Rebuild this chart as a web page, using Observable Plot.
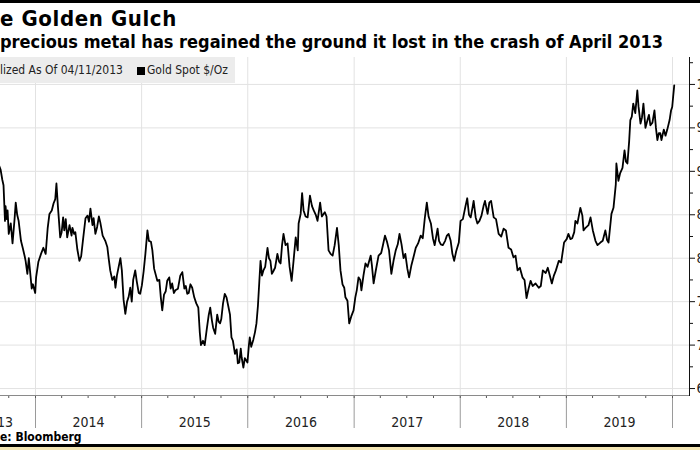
<!DOCTYPE html>
<html><head><meta charset="utf-8">
<script src="https://cdn.jsdelivr.net/npm/d3@7"></script>
<script src="https://cdn.jsdelivr.net/npm/@observablehq/plot@0.6"></script>
<style>
html,body{margin:0;padding:0;background:#fff;}
body{width:700px;height:450px;overflow:hidden;position:relative;font-family:"DejaVu Sans Condensed","DejaVu Sans",sans-serif;font-stretch:semi-condensed;color:#000;}
#topbar{position:absolute;left:0;top:0;width:700px;height:3px;background:#000}
#title{position:absolute;left:0;top:8.4px;font-size:22px;line-height:22px;font-weight:bold;white-space:nowrap;letter-spacing:0.6px}
#subtitle{position:absolute;left:0;top:32.8px;font-size:18px;line-height:18px;font-weight:bold;white-space:nowrap}
#chart{position:absolute;left:0;top:55px;width:700px;height:377px;overflow:hidden}
#legend{position:absolute;left:0;top:57px;width:235px;height:26px;background:#ececec;font-size:12px;white-space:nowrap;color:#222}
#legend span{position:absolute;top:0;line-height:26px}
#legend .sw{position:absolute;left:137px;top:10px;width:8px;height:8px;background:#000}
#source{position:absolute;left:0;top:431px;font-size:12px;line-height:12px;font-weight:bold;white-space:nowrap}
#botbar{position:absolute;left:0;top:444px;width:700px;height:3px;background:#000}
#beige{position:absolute;left:0;top:447px;width:700px;height:3px;background:#f3e5b3}
</style>
</head><body>
<div id="topbar"></div>
<div id="title">e Golden Gulch</div>
<div id="subtitle">precious metal has regained the ground it lost in the crash of April 2013</div>
<div id="chart"></div>
<div id="legend"><span style="left:0">lized As Of 04/11/2013</span><div class="sw"></div><span style="left:147px">Gold Spot $/Oz</span></div>
<div id="source">e: Bloomberg</div>
<div id="botbar"></div>
<div id="beige"></div>
<script>
const dates = [
"2013-04-11","2013-04-12","2013-04-15","2013-04-22","2013-05-03","2013-05-20","2013-06-05","2013-06-27","2013-07-12","2013-07-24","2013-08-07","2013-08-27",
"2013-09-03","2013-09-09","2013-09-13","2013-09-18","2013-09-20","2013-09-24","2013-09-27","2013-10-01","2013-10-08","2013-10-14","2013-10-21","2013-10-25","2013-10-30",
"2013-11-04","2013-11-12","2013-11-18","2013-11-25","2013-11-28","2013-12-04","2013-12-09","2013-12-13","2013-12-19","2013-12-23","2013-12-31",
"2014-01-03","2014-01-11","2014-01-20","2014-01-28","2014-02-05","2014-02-12","2014-02-18","2014-02-26","2014-03-04","2014-03-10","2014-03-14","2014-03-19","2014-03-27",
"2014-04-01","2014-04-06","2014-04-10","2014-04-15","2014-04-20","2014-04-28","2014-05-05","2014-05-08","2014-05-14","2014-05-18","2014-05-25","2014-06-01","2014-06-07",
"2014-06-13","2014-06-22","2014-06-29","2014-07-04","2014-07-09","2014-07-16","2014-07-20","2014-07-26","2014-08-01","2014-08-07","2014-08-12","2014-08-20","2014-08-29",
"2014-09-05","2014-09-10","2014-09-15","2014-09-22","2014-09-29","2014-10-03","2014-10-08","2014-10-14","2014-10-20","2014-10-25","2014-10-31","2014-11-06","2014-11-12",
"2014-11-17","2014-11-23","2014-11-28","2014-12-03","2014-12-10","2014-12-15","2014-12-22","2014-12-27",
"2015-01-02","2015-01-08","2015-01-14","2015-01-21","2015-01-26","2015-02-02","2015-02-07","2015-02-13","2015-02-24","2015-03-03","2015-03-08","2015-03-13","2015-03-19",
"2015-03-25","2015-03-30","2015-04-06","2015-04-11","2015-04-16","2015-04-22","2015-04-27","2015-05-06","2015-05-14","2015-05-21","2015-05-28","2015-06-02","2015-06-07",
"2015-06-12","2015-06-18","2015-06-24","2015-07-01","2015-07-08","2015-07-15","2015-07-20","2015-07-24","2015-07-31","2015-08-06","2015-08-13","2015-08-20","2015-08-25",
"2015-08-31","2015-09-04","2015-09-11","2015-09-18","2015-09-23","2015-09-28","2015-10-02","2015-10-08","2015-10-14","2015-10-20","2015-10-26","2015-11-01","2015-11-06",
"2015-11-11","2015-11-18","2015-11-24","2015-11-28","2015-12-03","2015-12-08","2015-12-11","2015-12-17","2015-12-22","2015-12-31",
"2016-01-05","2016-01-08","2016-01-13","2016-01-20","2016-01-26","2016-01-31","2016-02-05","2016-02-10","2016-02-14","2016-02-19","2016-02-24","2016-03-01","2016-03-09",
"2016-03-14","2016-03-19","2016-03-24","2016-03-29","2016-04-04","2016-04-12","2016-04-18","2016-04-23","2016-04-28","2016-05-03","2016-05-10","2016-05-17","2016-05-24",
"2016-05-31","2016-06-06","2016-06-14","2016-06-21","2016-06-24","2016-07-01","2016-07-06","2016-07-11","2016-07-18","2016-07-25","2016-08-02","2016-08-09","2016-08-15",
"2016-08-22","2016-08-28","2016-09-06","2016-09-12","2016-09-22","2016-09-28","2016-10-05","2016-10-12","2016-10-19","2016-10-26","2016-11-03","2016-11-09","2016-11-15",
"2016-11-22","2016-11-28","2016-12-02","2016-12-09","2016-12-15","2016-12-22","2016-12-30",
"2017-01-05","2017-01-10","2017-01-16","2017-01-22","2017-01-26","2017-02-02","2017-02-09","2017-02-16","2017-02-27","2017-03-03","2017-03-09","2017-03-16","2017-03-26",
"2017-04-04","2017-04-10","2017-04-17","2017-04-24","2017-05-01","2017-05-09","2017-05-17","2017-05-24","2017-05-31","2017-06-06","2017-06-13","2017-06-20","2017-06-26",
"2017-07-03","2017-07-09","2017-07-17","2017-07-24","2017-08-01","2017-08-09","2017-08-18","2017-08-25","2017-09-01","2017-09-08","2017-09-14","2017-09-22","2017-09-29",
"2017-10-05","2017-10-15","2017-10-20","2017-10-26","2017-11-02","2017-11-10","2017-11-16","2017-11-22","2017-11-29","2017-12-05","2017-12-11","2017-12-18","2017-12-27",
"2018-01-02","2018-01-10","2018-01-19","2018-01-25","2018-01-31","2018-02-06","2018-02-13","2018-02-16","2018-02-23","2018-03-01","2018-03-08","2018-03-15","2018-03-22",
"2018-03-27","2018-04-05","2018-04-11","2018-04-17","2018-04-26","2018-05-04","2018-05-13","2018-05-22","2018-05-30","2018-06-07","2018-06-16","2018-06-25","2018-07-03",
"2018-07-10","2018-07-17","2018-07-25","2018-08-03","2018-08-10","2018-08-17","2018-08-24","2018-08-31","2018-09-07","2018-09-17","2018-09-28","2018-10-05","2018-10-12",
"2018-10-22","2018-10-29","2018-11-05","2018-11-12","2018-11-19","2018-11-26","2018-12-06","2018-12-14","2018-12-24",
"2019-01-02","2019-01-08","2019-01-15","2019-01-21","2019-01-28","2019-02-01","2019-02-08","2019-02-18","2019-02-25","2019-03-01","2019-03-08","2019-03-18","2019-03-25",
"2019-04-02","2019-04-11","2019-04-18","2019-04-28","2019-05-06","2019-05-15","2019-05-21","2019-05-26","2019-06-05","2019-06-12","2019-06-20","2019-06-22","2019-06-29",
"2019-07-05","2019-07-13","2019-07-20","2019-07-25","2019-07-30","2019-08-05","2019-08-09","2019-08-14","2019-08-19","2019-08-26","2019-09-02","2019-09-06","2019-09-13",
"2019-09-18","2019-09-23","2019-09-30","2019-10-07","2019-10-12","2019-10-17","2019-10-24","2019-10-31","2019-11-05","2019-11-10","2019-11-15","2019-11-20","2019-11-24",
"2019-12-02","2019-12-08","2019-12-14","2019-12-22","2019-12-27","2019-12-31","2020-01-03","2020-01-07"
];
const values = [
100,95.5,86.5,90.0,94.0,88.5,90.0,77.5,82.0,85.0,83.0,90.8,
90.2,89.0,88.4,84.3,86.0,84.5,85.5,82.8,84.0,81.7,84.5,86.4,85.0,
84.3,82.0,81.2,80.2,79.7,78.2,80.0,78.6,76.5,77.0,76.0,
77.8,79.6,80.5,81.2,80.5,83.5,85.1,85.5,86.3,86.8,88.6,86.0,82.4,
83.0,84.7,83.2,84.5,82.4,83.8,82.6,83.5,82.8,83.0,81.0,79.7,80.2,
82.0,84.6,84.9,84.2,85.7,83.8,84.6,82.8,83.6,84.8,84.1,82.6,82.0,
81.3,79.9,78.6,77.5,77.9,76.6,78.0,79.0,80.0,78.6,75.2,73.6,75.0,
75.5,76.6,75.0,77.5,78.6,77.4,76.0,75.9,
76.9,78.5,80.5,83.2,82.0,81.9,80.9,78.8,77.4,77.5,75.5,74.0,75.8,
76.2,77.4,77.8,76.5,77.1,76.0,76.3,76.5,78.0,78.4,76.5,76.8,75.9,
76.0,77.0,76.6,75.5,74.8,74.3,71.5,70.0,70.5,70.0,71.8,73.5,74.3,
72.8,72.0,71.3,73.5,72.7,72.5,73.0,74.8,75.9,75.5,74.5,73.5,70.9,
70.5,69.0,69.5,67.9,68.0,69.6,68.6,67.4,68.5,68.0,
70.0,70.9,69.8,70.6,71.5,72.5,74.5,77.4,79.7,78.0,78.6,79.0,81.2,
80.0,79.7,78.2,78.5,78.9,80.5,79.6,79.4,81.5,82.8,81.5,81.7,79.0,
77.4,79.5,82.4,80.9,84.0,85.1,87.5,85.5,84.8,84.7,87.2,86.0,85.5,
85.0,84.3,86.4,84.8,85.3,84.8,80.9,80.5,80.3,81.5,83.5,81.5,78.6,
77.0,76.6,75.5,75.1,72.5,73.3,74.0,
75.5,76.3,77.8,77.5,76.3,78.0,79.4,79.0,80.3,79.2,77.1,78.5,80.3,
80.6,81.5,82.6,81.9,80.9,78.2,79.8,80.9,81.6,82.8,81.6,80.0,80.5,
78.8,77.8,79.2,80.1,81.2,81.7,82.6,82.3,84.6,86.4,84.8,84.0,82.3,
81.5,83.4,82.0,81.6,81.5,82.0,82.6,82.8,82.0,80.5,79.7,80.8,81.8,
84.3,84.5,86.0,86.9,85.0,84.7,86.0,86.6,84.7,84.0,84.3,84.9,86.0,
86.6,85.1,86.4,86.6,84.7,84.5,82.8,82.5,83.4,83.2,81.2,81.0,80.1,
80.3,78.6,78.9,77.8,77.5,75.4,76.5,77.4,76.8,77.1,76.6,76.8,78.6,
78.3,78.9,78.0,77.1,78.0,78.6,79.7,79.5,81.8,
82.2,82.8,82.2,82.3,83.0,84.3,84.0,85.8,84.9,83.2,83.5,83.8,84.7,
83.2,82.0,81.5,81.8,82.0,83.2,82.1,81.8,85.1,85.8,88.5,90.9,88.9,
89.8,90.4,92.4,91.1,90.9,93.5,95.9,96.3,97.8,96.7,99.3,97.5,95.5,
96.2,97.8,95.0,95.9,96.5,95.3,95.6,97.0,95.0,93.6,94.4,94.4,93.6,
94.8,94.1,94.8,95.9,97.0,97.4,98.5,99.9
];
const yearStarts = ["2014-01-01","2015-01-01","2016-01-01","2017-01-01","2018-01-01","2019-01-01","2020-01-01"];
const yearLabels = ["2013","2014","2015","2016","2017","2018","2019"];
const yTicks = [65,70,75,80,85,90,95,100];
const yMinorTicks = [67.5,72.5,77.5,82.5,87.5,92.5,97.5,102.5];
const yDomain = [64.2,103.1];

const data = dates.map((d,i)=>({date:new Date(d), value:values[i]}));
const years = yearStarts.map(d=>new Date(d));
const bounds = [data[0].date, ...years];
const labelData = yearLabels.map((label,i)=>({label, mid:new Date((bounds[i].getTime()+bounds[i+1].getTime())/2)}));
const quarters = d3.utcMonth.every(3).range(new Date("2013-07-01"), new Date("2020-01-02"));

const font = '"DejaVu Sans Condensed","DejaVu Sans",sans-serif';
const chart = Plot.plot({
  width:700, height:377,
  marginLeft:0, marginRight:11, marginTop:2, marginBottom:37,
  style:{fontFamily:font, fontStretch:"semi-condensed", fontSize:"14px", overflow:"hidden", background:"transparent", color:"#222"},
  x:{type:"utc", domain:[years[0], years[6]], range:[35,672], label:null},
  y:{domain:yDomain, label:null},
  marks:[
    Plot.ruleY(yTicks, {stroke:"#e2e2e2", strokeWidth:1}),
    Plot.ruleX(years, {stroke:"#e2e2e2", strokeWidth:1}),
    Plot.axisX({ticks:years, tickSize:33, tickFormat:()=>"", stroke:"#9a9a9a"}),
    Plot.axisX({ticks:quarters, tickSize:3, tickFormat:()=>"", stroke:"#555"}),
    Plot.text(labelData, {x:"mid", text:"label", frameAnchor:"bottom", lineAnchor:"bottom", dy:31, fontSize:14, fill:"#222"}),
    Plot.frame({anchor:"bottom", stroke:"#8a8a8a"}),
    Plot.frame({anchor:"right", stroke:"#111"}),
    Plot.axisY({anchor:"right", ticks:yTicks, tickSize:5, tickPadding:2, fontSize:14, stroke:"#111", fill:"#222"}),
    Plot.axisY({anchor:"right", ticks:yMinorTicks, tickSize:3, tickFormat:()=>"", stroke:"#111"}),
    Plot.lineY(data, {x:"date", y:"value", stroke:"#000", strokeWidth:1.8, clip:true})
  ]
});
document.getElementById("chart").appendChild(chart);
</script>
</body></html>
